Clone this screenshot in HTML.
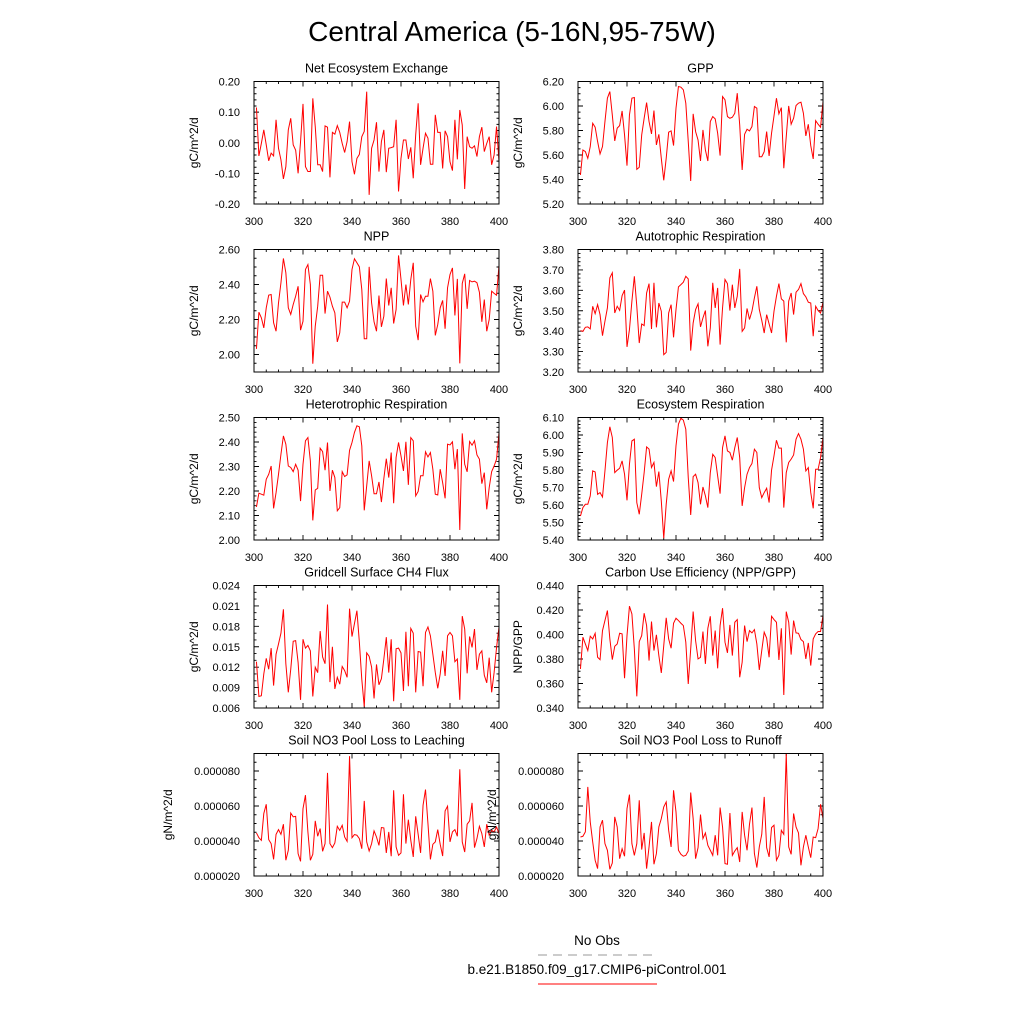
<!DOCTYPE html>
<html><head><meta charset="utf-8"><style>
html,body{margin:0;padding:0;background:#fff}
svg{display:block;font-family:"Liberation Sans",sans-serif}
</style></head><body>
<svg id="chart" width="1024" height="1024" viewBox="0 0 1024 1024" xmlns="http://www.w3.org/2000/svg">
<text x="512" y="41" font-size="28" text-anchor="middle">Central America (5-16N,95-75W)</text>
<g>
<text x="597" y="945" font-size="13.5" text-anchor="middle">No Obs</text>
<line x1="538" y1="955" x2="657" y2="955" stroke="#999" stroke-width="1" stroke-dasharray="9,6"/>
<text x="597" y="974" font-size="13.5" text-anchor="middle">b.e21.B1850.f09_g17.CMIP6-piControl.001</text>
<line x1="538" y1="984" x2="657" y2="984" stroke="#f00" stroke-width="1"/>
</g>
</svg>
<script>
const years = []; for (let y = 301; y <= 400; y++) years.push(y);
const xTicks = [300, 320, 340, 360, 380, 400];
const neeValues = [0.115,-0.043,-0.002,0.042,-0.007,-0.059,-0.034,-0.043,0.075,-0.018,-0.056,-0.118,-0.078,0.042,0.080,-0.007,-0.024,-0.100,0.004,0.127,-0.078,-0.094,-0.094,0.145,0.053,-0.072,-0.072,-0.094,0.055,0.051,-0.113,0.034,0.028,0.056,0.034,-0.002,-0.032,0.004,0.069,-0.062,-0.103,-0.051,-0.038,0.020,0.037,0.167,-0.170,-0.018,0.009,0.067,-0.094,0.004,0.042,-0.096,-0.018,-0.016,-0.013,0.075,-0.159,-0.051,0.009,0.009,-0.053,-0.015,-0.116,0.026,0.129,-0.072,-0.018,0.031,0.015,-0.070,-0.070,0.091,0.034,0.034,-0.084,0.039,0.020,-0.062,-0.091,0.075,-0.054,0.107,0.058,-0.151,0.020,-0.013,-0.018,-0.010,-0.045,0.020,0.051,-0.029,-0.002,0.020,-0.072,-0.040,0.053,-0.062];
const gppValues = [5.437,5.641,5.628,5.573,5.669,5.859,5.827,5.710,5.609,5.669,5.873,6.064,6.118,5.927,5.715,5.819,5.840,5.960,5.764,5.513,5.927,6.064,6.069,5.483,5.500,5.764,5.900,6.028,5.873,5.772,5.963,5.682,5.769,5.573,5.393,5.573,5.786,5.797,5.677,5.982,6.159,6.154,6.132,6.023,5.710,5.388,5.936,5.791,5.723,5.551,5.805,5.641,5.551,5.873,5.914,5.895,5.778,5.595,6.077,6.050,5.914,5.900,5.908,5.941,6.105,5.846,5.478,5.769,5.810,5.797,5.832,5.996,5.982,5.586,5.586,5.627,5.791,5.592,5.778,5.919,6.064,5.936,5.987,5.492,5.750,6.001,5.851,5.900,6.004,6.023,6.031,5.941,5.756,5.851,5.677,5.568,5.881,5.851,5.827,6.036];
const nppValues = [2.032,2.242,2.210,2.152,2.267,2.339,2.343,2.181,2.133,2.295,2.410,2.549,2.467,2.267,2.229,2.286,2.333,2.390,2.139,2.190,2.486,2.514,2.400,1.947,2.162,2.276,2.453,2.453,2.234,2.362,2.328,2.276,2.238,2.072,2.124,2.299,2.299,2.267,2.305,2.486,2.547,2.524,2.501,2.371,2.090,2.090,2.501,2.295,2.187,2.133,2.337,2.158,2.219,2.434,2.280,2.381,2.177,2.257,2.566,2.429,2.280,2.400,2.286,2.429,2.524,2.162,2.082,2.343,2.301,2.333,2.333,2.434,2.362,2.109,2.171,2.267,2.309,2.147,2.381,2.457,2.495,2.223,2.432,1.949,2.406,2.461,2.261,2.423,2.415,2.419,2.410,2.356,2.187,2.314,2.133,2.200,2.362,2.349,2.339,2.509];
const arValues = [3.403,3.399,3.419,3.421,3.411,3.522,3.486,3.530,3.481,3.378,3.449,3.514,3.661,3.686,3.489,3.522,3.502,3.574,3.601,3.323,3.408,3.547,3.669,3.522,3.342,3.435,3.427,3.587,3.633,3.411,3.637,3.419,3.538,3.498,3.285,3.296,3.489,3.530,3.370,3.506,3.617,3.628,3.640,3.669,3.656,3.305,3.440,3.506,3.534,3.421,3.465,3.501,3.326,3.416,3.637,3.514,3.612,3.334,3.514,3.653,3.633,3.501,3.628,3.514,3.571,3.705,3.399,3.416,3.511,3.457,3.498,3.563,3.620,3.506,3.453,3.391,3.481,3.436,3.391,3.498,3.571,3.633,3.558,3.547,3.345,3.547,3.587,3.481,3.591,3.604,3.633,3.584,3.568,3.542,3.538,3.375,3.522,3.501,3.489,3.542];
const hrValues = [2.135,2.191,2.187,2.183,2.248,2.268,2.302,2.129,2.193,2.268,2.350,2.425,2.391,2.302,2.296,2.279,2.309,2.285,2.159,2.309,2.405,2.418,2.323,2.080,2.204,2.211,2.375,2.361,2.285,2.398,2.200,2.285,2.255,2.119,2.132,2.279,2.259,2.266,2.366,2.398,2.439,2.466,2.462,2.384,2.121,2.221,2.323,2.262,2.189,2.189,2.237,2.155,2.251,2.332,2.255,2.357,2.150,2.337,2.398,2.343,2.282,2.401,2.225,2.418,2.405,2.180,2.198,2.262,2.262,2.360,2.339,2.357,2.289,2.187,2.184,2.289,2.234,2.170,2.391,2.388,2.401,2.289,2.371,2.041,2.435,2.309,2.278,2.402,2.387,2.405,2.347,2.330,2.230,2.275,2.125,2.214,2.279,2.302,2.330,2.439];
const erValues = [5.537,5.585,5.604,5.604,5.652,5.795,5.789,5.661,5.671,5.646,5.795,5.957,6.047,5.986,5.785,5.799,5.810,5.852,5.776,5.627,5.833,5.966,5.976,5.614,5.547,5.661,5.785,5.932,5.919,5.814,5.843,5.705,5.791,5.623,5.410,5.604,5.747,5.795,5.734,5.938,6.062,6.096,6.085,6.033,5.757,5.543,5.762,5.776,5.728,5.604,5.703,5.652,5.585,5.785,5.890,5.871,5.766,5.665,5.928,5.995,5.909,5.900,5.856,5.928,5.986,5.871,5.595,5.699,5.776,5.814,5.837,5.919,5.900,5.699,5.642,5.671,5.696,5.614,5.799,5.881,5.970,5.925,5.925,5.585,5.785,5.843,5.862,5.886,5.976,6.008,5.976,5.919,5.795,5.814,5.671,5.581,5.804,5.804,5.871,5.986];
const ch4Values = [0.0128,0.0077,0.0078,0.0110,0.0133,0.0117,0.0148,0.0093,0.0139,0.0154,0.0170,0.0205,0.0125,0.0083,0.0117,0.0158,0.0159,0.0127,0.0072,0.0161,0.0148,0.0152,0.0144,0.0077,0.0120,0.0112,0.0173,0.0135,0.0125,0.0212,0.0098,0.0150,0.0088,0.0105,0.0095,0.0121,0.0115,0.0105,0.0206,0.0165,0.0184,0.0203,0.0157,0.0102,0.0062,0.0141,0.0136,0.0120,0.0074,0.0124,0.0094,0.0103,0.0132,0.0164,0.0112,0.0161,0.0070,0.0147,0.0148,0.0141,0.0085,0.0172,0.0092,0.0177,0.0170,0.0083,0.0143,0.0142,0.0092,0.0171,0.0179,0.0166,0.0139,0.0112,0.0089,0.0110,0.0144,0.0107,0.0166,0.0171,0.0166,0.0128,0.0132,0.0072,0.0195,0.0176,0.0111,0.0165,0.0149,0.0176,0.0116,0.0139,0.0144,0.0108,0.0097,0.0134,0.0083,0.0112,0.0149,0.0179];
const cueValues = [0.3719,0.3978,0.3923,0.3869,0.3986,0.3964,0.4010,0.3814,0.3795,0.4032,0.4114,0.4196,0.3964,0.3795,0.3904,0.3923,0.4010,0.4005,0.3643,0.3991,0.4231,0.4168,0.3882,0.3495,0.3942,0.3991,0.4174,0.4073,0.3787,0.4106,0.3869,0.3997,0.3828,0.3686,0.3910,0.4136,0.3964,0.3888,0.4092,0.4133,0.4114,0.4092,0.4073,0.3937,0.3596,0.3882,0.4187,0.3950,0.3801,0.3814,0.4024,0.3760,0.4051,0.4149,0.3828,0.4032,0.3724,0.4073,0.4215,0.3937,0.3850,0.4078,0.3828,0.4100,0.4122,0.3651,0.3773,0.4073,0.3942,0.4032,0.4013,0.4040,0.3923,0.3711,0.3869,0.4019,0.3970,0.3814,0.4149,0.4122,0.4100,0.3792,0.4051,0.3506,0.4187,0.4100,0.3836,0.4114,0.4013,0.4010,0.3959,0.3942,0.3801,0.3931,0.3746,0.3964,0.4005,0.4024,0.4024,0.4155];
const leachValues = [44.6e-6,41.9e-6,40.4e-6,55.7e-6,61.0e-6,40.8e-6,38.5e-6,29.5e-6,43.8e-6,46.5e-6,43.8e-6,49.6e-6,29.0e-6,34.7e-6,56.0e-6,53.8e-6,54.1e-6,32.8e-6,28.4e-6,58.5e-6,66.2e-6,45.2e-6,29.0e-6,32.4e-6,51.5e-6,42.7e-6,47.1e-6,34.1e-6,38.5e-6,78.9e-6,38.5e-6,36.2e-6,38.9e-6,48.4e-6,46.1e-6,49.0e-6,42.3e-6,39.8e-6,88.5e-6,41.9e-6,43.7e-6,43.3e-6,41.4e-6,35.6e-6,62.9e-6,39.5e-6,34.3e-6,38.5e-6,45.8e-6,42.3e-6,37.5e-6,47.7e-6,47.5e-6,33.2e-6,45.2e-6,31.3e-6,69.0e-6,36.6e-6,31.8e-6,33.2e-6,66.7e-6,38.5e-6,52.2e-6,40.4e-6,30.9e-6,54.1e-6,43.8e-6,33.2e-6,60.4e-6,69.4e-6,50.0e-6,29.5e-6,38.1e-6,39.5e-6,46.5e-6,38.1e-6,31.4e-6,57.2e-6,59.9e-6,39.5e-6,45.2e-6,46.5e-6,42.7e-6,81.0e-6,39.5e-6,33.7e-6,49.6e-6,51.5e-6,61.8e-6,36.2e-6,41.4e-6,48.4e-6,44.2e-6,36.6e-6,49.6e-6,43.3e-6,46.1e-6,45.2e-6,48.0e-6,44.2e-6];
const runoffValues = [42.3e-6,42.7e-6,45.2e-6,70.9e-6,50.9e-6,39.5e-6,29.0e-6,24.2e-6,48.0e-6,51.9e-6,38.5e-6,34.7e-6,23.8e-6,27.4e-6,53.8e-6,48.0e-6,29.9e-6,35.6e-6,31.3e-6,58.5e-6,66.5e-6,38.5e-6,31.8e-6,38.5e-6,63.3e-6,35.1e-6,44.6e-6,24.2e-6,36.6e-6,50.9e-6,26.7e-6,32.8e-6,48.0e-6,52.8e-6,59.5e-6,62.3e-6,46.1e-6,36.6e-6,69.0e-6,56.6e-6,34.7e-6,32.4e-6,31.3e-6,31.8e-6,34.3e-6,67.7e-6,52.8e-6,29.9e-6,36.2e-6,55.1e-6,41.4e-6,44.6e-6,37.5e-6,34.7e-6,31.8e-6,43.3e-6,31.8e-6,59.1e-6,48.0e-6,27.1e-6,26.7e-6,56.0e-6,31.8e-6,34.3e-6,36.2e-6,28.0e-6,56.6e-6,43.3e-6,34.7e-6,49.6e-6,59.1e-6,32.8e-6,24.8e-6,36.6e-6,43.8e-6,65.2e-6,36.2e-6,30.9e-6,47.7e-6,49.0e-6,29.0e-6,31.8e-6,46.1e-6,43.8e-6,90.0e-6,36.6e-6,32.4e-6,55.7e-6,48.0e-6,44.6e-6,26.1e-6,36.6e-6,43.3e-6,36.6e-6,30.5e-6,42.3e-6,41.9e-6,47.1e-6,61.0e-6,52.8e-6];

const panels = [
 {id:'nee', title:'Net Ecosystem Exchange', ytitle:'gC/m^2/d', data:neeValues, ymin:-0.2, ymax:0.2, major:0.1, minor:0.02, dec:2},
 {id:'gpp', title:'GPP', ytitle:'gC/m^2/d', data:gppValues, ymin:5.2, ymax:6.2, major:0.2, minor:0.05, dec:2},
 {id:'npp', title:'NPP', ytitle:'gC/m^2/d', data:nppValues, ymin:1.9, ymax:2.6, major:0.2, minor:0.05, dec:2, first:2.0},
 {id:'ar', title:'Autotrophic Respiration', ytitle:'gC/m^2/d', data:arValues, ymin:3.2, ymax:3.8, major:0.1, minor:0.02, dec:2},
 {id:'hr', title:'Heterotrophic Respiration', ytitle:'gC/m^2/d', data:hrValues, ymin:2.0, ymax:2.5, major:0.1, minor:0.02, dec:2},
 {id:'er', title:'Ecosystem Respiration', ytitle:'gC/m^2/d', data:erValues, ymin:5.4, ymax:6.1, major:0.1, minor:0.02, dec:2},
 {id:'ch4', title:'Gridcell Surface CH4 Flux', ytitle:'gC/m^2/d', data:ch4Values, ymin:0.006, ymax:0.024, major:0.003, minor:0.001, dec:3},
 {id:'cue', title:'Carbon Use Efficiency (NPP/GPP)', ytitle:'NPP/GPP', data:cueValues, ymin:0.34, ymax:0.44, major:0.02, minor:0.005, dec:3},
 {id:'leach', title:'Soil NO3 Pool Loss to Leaching', ytitle:'gN/m^2/d', data:leachValues, ymin:2e-5, ymax:9e-5, major:2e-5, minor:0.5e-5, dec:6, last:8e-5, ytx:-82},
 {id:'runoff', title:'Soil NO3 Pool Loss to Runoff', ytitle:'gN/m^2/d', data:runoffValues, ymin:2e-5, ymax:9e-5, major:2e-5, minor:0.5e-5, dec:6, last:8e-5, ytx:-82}
];

const NS = 'http://www.w3.org/2000/svg';
const svg = document.getElementById('chart');
function mk(tag, attrs, parent){ const e = document.createElementNS(NS, tag); for (const k in attrs) e.setAttribute(k, attrs[k]); parent.appendChild(e); return e; }

panels.forEach((p, i) => {
  const col = i % 2, row = Math.floor(i / 2);
  const L = col ? 578 : 254, W = 245, T = 81.5 + row * 168, H = 122.5;
  const xs = v => L + (v - 300) / 100 * W;
  const ys = v => T + H - (v - p.ymin) / (p.ymax - p.ymin) * H;
  const g = mk('g', {}, svg);
  
  
  const tt = mk('text', {x: L + W/2, y: T - 9, 'font-size': 12.5, 'text-anchor': 'middle'}, g);
  tt.textContent = p.title;
  
  
  let d = '';
  for (let v = 300; v <= 400.001; v += 5) {
    const x = xs(v), len = (v % 20 === 0) ? 5 : 2.5;
    d += `M${x},${T+H}v${-len}M${x},${T}v${len}`;
  }
  const nMinor = Math.round((p.ymax - p.ymin) / p.minor);
  for (let k = 0; k <= nMinor; k++) {
    const v = p.ymin + k * p.minor, y = ys(v);
    const r = Math.abs((v - (p.first ?? p.ymin)) / p.major - Math.round((v - (p.first ?? p.ymin)) / p.major));
    const len = r < 1e-6 ? 5 : 2.5;
    d += `M${L},${y}h${len}M${L+W},${y}h${-len}`;
  }
  const tk = mk('path', {d: d, stroke: '#000', 'stroke-width': 0.9, fill: 'none'}, g);
  
  
  xTicks.forEach(v => {
    const t = mk('text', {x: xs(v), y: T + H + 21, 'font-size': 11, 'text-anchor': 'middle'}, g);
    t.textContent = v;
    
    
  });
  const first = p.first ?? p.ymin, last = p.last ?? p.ymax;
  const nMaj = Math.round((last - first) / p.major);
  for (let k = 0; k <= nMaj; k++) {
    const v = first + k * p.major;
    const t = mk('text', {x: L - 14, y: ys(v) + 4, 'font-size': 11, 'text-anchor': 'end'}, g);
    t.textContent = v.toFixed(p.dec);
    
    
  }
  const tx = L + (p.ytx ?? -56), ty = T + H/2;
  const yt = mk('text', {x: tx, y: ty, 'font-size': 12, 'text-anchor': 'middle', transform: `rotate(-90 ${tx} ${ty})`}, g);
  yt.textContent = p.ytitle;
  
  
  const pts = p.data.map((v, j) => xs(years[j]).toFixed(2) + ',' + ys(v).toFixed(2)).join(' ');
  const ln = mk('polyline', {points: pts, fill: 'none', stroke: '#f00', 'stroke-width': 1}, g);
  
  
  const fr = mk('rect', {x: L, y: T, width: W, height: H, fill: 'none', stroke: '#000', 'stroke-width': 1}, g);
  
  
});
</script>
</body></html>
